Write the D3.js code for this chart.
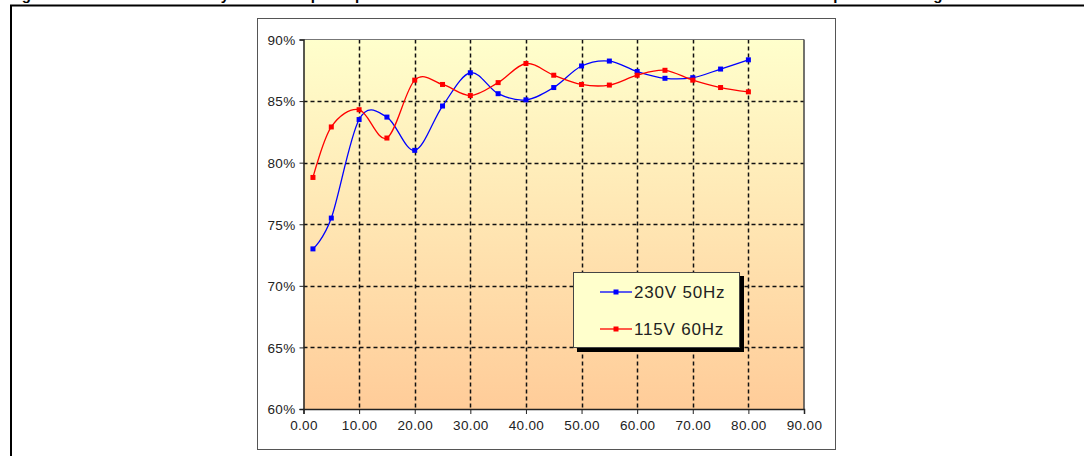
<!DOCTYPE html>
<html>
<head>
<meta charset="utf-8">
<script src="https://cdn.jsdelivr.net/npm/d3@7"></script>
<style>
  html, body { margin: 0; padding: 0; background: #ffffff; }
  svg { display: block; }
  text { font-family: "Liberation Sans", Arial, sans-serif; }
</style>
</head>
<body>
<svg id="chart" width="1084" height="456"></svg>
<script>
// ---- data ----
const titleText = "Figure 15. Efficiency vs output power at 230 V / 50 Hz and 115 V / 60 Hz input voltage";
const loadPoints = [1.7, 5, 10, 15, 20, 25, 30, 35, 40, 45, 50, 55, 60, 65, 70, 75, 80];
const eff230 = [73.0, 75.5, 83.5, 83.7, 81.0, 84.6, 87.3, 85.6, 85.1, 86.1, 87.85, 88.25, 87.4, 86.85, 86.9, 87.6, 88.35];
const eff115 = [78.8, 82.9, 84.3, 82.0, 86.7, 86.35, 85.45, 86.5, 88.05, 87.1, 86.35, 86.3, 87.1, 87.5, 86.7, 86.1, 85.75];
const seriesNames = ["230V 50Hz", "115V 60Hz"];
const seriesColors = ["#0000FF", "#FF0000"];
const xTicks = [0, 10, 20, 30, 40, 50, 60, 70, 80, 90];
const yTicks = [60, 65, 70, 75, 80, 85, 90];

const svg = d3.select("#chart");

// title (cropped off the top of the picture, as in the source)
svg.append("text")
  .attr("x", 0).attr("y", 0)
  .attr("font-size", 15).attr("font-weight", "bold")
  .attr("textLength", 955).attr("lengthAdjust", "spacing")
  .attr("fill", "#000")
  .text(titleText);

// outer frame (top rule + left rule)
svg.append("line").attr("x1", 10).attr("x2", 1084).attr("y1", 5.5).attr("y2", 5.5)
  .attr("stroke", "#000").attr("stroke-width", 2);
svg.append("line").attr("x1", 11).attr("x2", 11).attr("y1", 5).attr("y2", 456)
  .attr("stroke", "#000").attr("stroke-width", 2);

// chart box
svg.append("rect").attr("x", 257.5).attr("y", 18.5).attr("width", 578).attr("height", 431)
  .attr("fill", "#fff").attr("stroke", "#555").attr("stroke-width", 1);

// scales
const x = d3.scaleLinear().domain([0, 90]).range([303.5, 804]);
const y = d3.scaleLinear().domain([60, 90]).range([409, 39.5]);

// gradient
const defs = svg.append("defs");
const grad = defs.append("linearGradient").attr("id", "bg").attr("x1", 0).attr("y1", 0).attr("x2", 0).attr("y2", 1);
grad.append("stop").attr("offset", "0%").attr("stop-color", "#FFFFCC");
grad.append("stop").attr("offset", "100%").attr("stop-color", "#FFCC99");

svg.append("rect")
  .attr("x", x(0)).attr("y", y(90))
  .attr("width", x(90) - x(0)).attr("height", y(60) - y(90))
  .attr("fill", "url(#bg)");

// gridlines
const grid = svg.append("g").attr("stroke", "#111").attr("stroke-width", 1.5).attr("stroke-dasharray", "4,3");
grid.selectAll("line.h").data(yTicks.filter(v => v > 60 && v < 90)).join("line")
  .attr("class", "h")
  .attr("x1", x(0)).attr("x2", x(90))
  .attr("y1", d => Math.round(y(d)) + 0.5).attr("y2", d => Math.round(y(d)) + 0.5);
grid.selectAll("line.v").data(xTicks.filter(v => v > 0 && v < 90)).join("line")
  .attr("class", "v")
  .attr("x1", d => Math.round(x(d)) + 0.5).attr("x2", d => Math.round(x(d)) + 0.5)
  .attr("y1", y(90)).attr("y2", y(60));

// plot border (top & right)
svg.append("line").attr("x1", x(0)).attr("x2", x(90)).attr("y1", y(90)).attr("y2", y(90))
  .attr("stroke", "#777").attr("stroke-width", 1.2);
svg.append("line").attr("x1", x(90)).attr("x2", x(90)).attr("y1", y(90)).attr("y2", y(60))
  .attr("stroke", "#444").attr("stroke-width", 1.5);

// axes
const yAxis = d3.axisLeft(y).tickValues(yTicks).tickSize(4).tickPadding(4).tickFormat(d => d + "%");
const xAxis = d3.axisBottom(x).tickValues(xTicks).tickSize(5).tickPadding(6).tickFormat(d3.format(".2f"));

const gy = svg.append("g").attr("transform", `translate(${x(0)},0)`).call(yAxis);
const gx = svg.append("g").attr("transform", `translate(0,${y(60)})`).call(xAxis);
[gx, gy].forEach(g => {
  g.select(".domain").attr("stroke", "#222").attr("stroke-width", 1.5);
  g.selectAll(".tick line").attr("stroke", "#222");
  g.selectAll("text").attr("font-size", 13.5).attr("letter-spacing", 0.35)
    .attr("fill", "#222").attr("font-family", "'Liberation Sans', Arial, sans-serif");
});
gy.selectAll("text").attr("dy", "0.36em");

// series
const series = [eff230, eff115];
const line = d3.line()
  .x((d, i) => x(loadPoints[i]))
  .y(d => y(d))
  .curve(d3.curveCatmullRom.alpha(0));

series.forEach((vals, si) => {
  svg.append("path").datum(vals)
    .attr("d", line)
    .attr("fill", "none")
    .attr("stroke", seriesColors[si])
    .attr("stroke-width", 1.3);
  svg.append("g").selectAll("rect").data(vals).join("rect")
    .attr("x", (d, i) => x(loadPoints[i]) - 2.5)
    .attr("y", d => y(d) - 2.5)
    .attr("width", 5).attr("height", 5)
    .attr("fill", seriesColors[si]);
});

// legend
const lg = svg.append("g");
lg.append("rect").attr("x", 577).attr("y", 276).attr("width", 167).attr("height", 76)
  .attr("fill", "#000");
lg.append("rect").attr("x", 573.5).attr("y", 272.5).attr("width", 166).attr("height", 75)
  .attr("fill", "#FFFFCC").attr("stroke", "#444").attr("stroke-width", 1);
seriesNames.forEach((name, i) => {
  const ly = 292 + i * 37;
  lg.append("line").attr("x1", 600).attr("x2", 632).attr("y1", ly).attr("y2", ly)
    .attr("stroke", seriesColors[i]).attr("stroke-width", 1.3);
  lg.append("rect").attr("x", 613.5).attr("y", ly - 2.5).attr("width", 5).attr("height", 5)
    .attr("fill", seriesColors[i]);
  lg.append("text").attr("x", 634).attr("y", ly).attr("dy", "0.36em")
    .attr("font-size", 17).attr("letter-spacing", 0.8).attr("fill", "#222")
    .text(name);
});
</script>
</body>
</html>
